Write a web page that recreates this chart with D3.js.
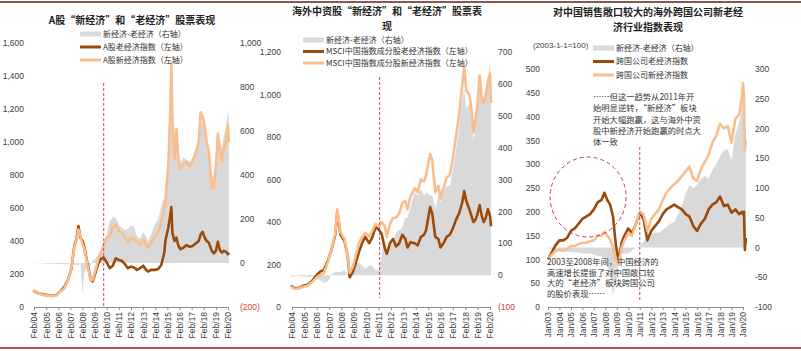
<!DOCTYPE html>
<html>
<head>
<meta charset="utf-8">
<script src="https://cdn.jsdelivr.net/npm/d3@7"></script>
<style>
  body { margin: 0; background: #fff; }
  svg text { font-family: "Liberation Sans", Arial, sans-serif; }
  svg .cjk { font-family: "Noto Sans CJK SC", sans-serif; }
</style>
</head>
<body>
<div id="chart"></div>
<script>
// ---- Panel 1: A-share new vs old economy ----
const p1Dates = ["2004-01","2004-04","2004-08","2004-12","2005-04","2005-08","2005-12","2006-04","2006-08","2006-12",
  "2007-03","2007-06","2007-08","2007-10","2007-12","2008-02","2008-04","2008-07","2008-10","2008-12",
  "2009-03","2009-06","2009-08","2009-11","2010-02","2010-05","2010-08","2010-11","2011-02","2011-05",
  "2011-08","2011-11","2012-02","2012-05","2012-08","2012-11","2013-02","2013-05","2013-07","2013-10",
  "2014-02","2014-05","2014-08","2014-11","2014-12","2015-03","2015-05","2015-06","2015-07","2015-09",
  "2015-11","2016-01","2016-03","2016-06","2016-09","2016-12","2017-03","2017-06","2017-09","2017-11",
  "2018-01","2018-03","2018-05","2018-07","2018-10","2018-12","2019-02","2019-04","2019-06","2019-08",
  "2019-10","2019-12","2020-02","2020-03"];
const p1Old = [100,92,80,75,72,68,72,95,120,170,
  230,370,410,490,420,400,360,260,170,155,
  210,270,290,300,270,235,250,295,285,280,
  260,235,245,240,225,235,250,225,215,225,
  225,230,255,330,400,480,560,606,450,400,
  420,370,350,360,375,365,370,385,400,440,
  455,420,400,390,340,325,340,395,345,330,
  340,335,320,330];
const p1New = [100,94,80,72,70,66,70,92,112,165,
  235,360,400,470,430,380,350,250,160,165,
  225,300,320,380,420,430,480,500,460,450,
  420,390,420,410,395,375,410,380,360,390,
  430,450,520,600,620,860,1200,1480,1150,900,
  1080,880,830,870,880,850,880,930,1000,1180,
  1150,1100,1000,950,720,720,850,1050,960,880,
  960,1000,1100,1000];
const p1Gap = [0,2,0,-3,-2,-3,-3,-4,-6,-5,
  5,-8,-8,-10,5,-140,-40,-20,-10,10,
  20,40,55,80,130,190,210,205,170,160,
  150,155,170,165,120,110,140,120,100,130,
  180,200,260,300,360,420,600,650,580,480,
  560,500,460,480,470,460,480,520,560,650,
  640,620,560,520,390,400,470,580,560,520,
  580,620,695,650];
const p1Ticks = ["Feb/04","Feb/05","Feb/06","Feb/07","Feb/08","Feb/09","Feb/10","Feb/11","Feb/12",
  "Feb/13","Feb/14","Feb/15","Feb/16","Feb/17","Feb/18","Feb/19","Feb/20"];
const p1LeftTicks = [0,200,400,600,800,1000,1200,1400,1600];
const p1RightTicks = [-200,0,200,400,600,800,1000];
const p1Marker = "2009-11";
const p1Title = ["A股“新经济”和“老经济”股票表现"];
const p1Legend = ["新经济-老经济（右轴）","A股老经济指数（左轴）","A股新经济指数（左轴）"];

// ---- Panel 2: offshore Chinese stocks (MSCI China) ----
const p2Dates = ["2004-01","2004-05","2004-09","2005-01","2005-05","2005-09","2006-01","2006-05","2006-09","2007-01",
  "2007-05","2007-08","2007-10","2008-01","2008-05","2008-08","2008-10","2009-01","2009-04","2009-07",
  "2009-10","2010-01","2010-05","2010-08","2010-11","2011-02","2011-05","2011-08","2011-10","2012-01",
  "2012-04","2012-07","2012-10","2013-01","2013-04","2013-06","2013-09","2014-01","2014-04","2014-07",
  "2014-10","2014-12","2015-04","2015-06","2015-09","2015-12","2016-02","2016-05","2016-08","2016-11",
  "2017-02","2017-05","2017-08","2017-11","2018-01","2018-03","2018-06","2018-08","2018-10","2018-12",
  "2019-02","2019-04","2019-06","2019-08","2019-10","2019-12","2020-02","2020-03"];
const p2Old = [100,88,90,100,105,120,145,165,175,220,
  280,340,450,340,310,240,140,165,210,260,
  300,330,300,330,375,365,345,275,250,300,
  320,285,300,340,320,280,305,300,290,330,
  340,360,470,440,330,320,280,300,330,340,
  370,410,440,490,545,500,460,430,400,410,
  440,480,430,400,420,460,430,380];
const p2New = [95,85,88,95,100,115,135,150,160,215,
  285,350,460,350,320,240,160,190,245,300,
  330,350,330,360,390,380,400,380,330,390,
  420,420,440,490,500,460,520,560,540,600,
  590,620,720,690,540,570,510,560,610,620,
  700,800,900,1040,1130,1020,1000,930,820,880,
  960,1090,980,960,1000,1060,1100,960];
const p2Gap = [-5,-3,-2,-5,-5,-5,-10,-15,-25,-20,
  5,10,10,10,15,0,20,25,35,40,
  30,20,30,30,15,15,60,110,85,95,
  100,135,140,150,180,180,215,260,250,270,
  250,260,250,250,210,250,230,260,280,280,
  330,390,460,550,585,520,540,500,420,470,
  520,610,550,560,580,600,670,580];
const p2Ticks = p1Ticks;
const p2LeftTicks = [0,200,400,600,800,1000,1200];
const p2RightTicks = [-100,0,100,200,300,400,500,600,700];
const p2Marker = "2011-03";
const p2Title = ["海外中资股“新经济”和“老经济”股票表","现"];
const p2Legend = ["新经济-老经济（右轴）","MSCI中国指数成分股老经济指数（左轴）","MSCI中国指数成分股新经济指数（左轴）"];

// ---- Panel 3: multinationals with China exposure ----
const p3Dates = ["2003-01","2003-05","2003-09","2004-01","2004-05","2004-09","2005-01","2005-05","2005-09","2006-01",
  "2006-05","2006-09","2007-01","2007-05","2007-09","2007-12","2008-03","2008-06","2008-09","2008-12",
  "2009-03","2009-06","2009-09","2010-01","2010-05","2010-09","2011-01","2011-05","2011-09","2012-01",
  "2012-05","2012-09","2013-01","2013-05","2013-09","2014-01","2014-05","2014-09","2015-01","2015-05",
  "2015-09","2016-01","2016-05","2016-09","2017-01","2017-05","2017-09","2018-01","2018-05","2018-09",
  "2019-01","2019-05","2019-09","2019-12","2020-01","2020-02","2020-03","2020-04"];
const p3Old = [100,115,130,140,140,145,160,165,175,185,
  190,195,205,220,225,240,225,215,190,130,
  95,135,150,165,155,175,198,185,140,160,
  170,180,195,205,210,215,210,205,195,190,
  170,160,175,185,205,215,220,232,212,215,
  198,205,195,200,195,200,120,145];
const p3New = [100,110,118,120,118,122,128,128,132,135,
  135,138,140,150,150,158,150,142,125,100,
  88,125,140,155,150,175,200,195,160,185,
  195,205,225,240,250,258,265,275,285,295,
  270,265,290,305,320,345,360,385,375,380,
  345,395,405,440,470,440,330,350];
const p3Gap = [0,-3,-5,-6,-6,-7,-8,-8,-9,-10,
  -10,-10,-12,-14,-15,-20,-30,-45,-80,-60,
  -10,-10,-10,-10,-5,0,2,10,20,25,
  25,25,30,35,40,43,55,70,90,105,
  100,105,115,120,115,130,140,153,163,165,
  147,190,210,240,275,240,210,205];
const p3Ticks = ["Jan/03","Jan/04","Jan/05","Jan/06","Jan/07","Jan/08","Jan/09","Jan/10","Jan/11","Jan/12",
  "Jan/13","Jan/14","Jan/15","Jan/16","Jan/17","Jan/18","Jan/19","Jan/20"];
const p3LeftTicks = [0,50,100,150,200,250,300,350,400,450,500];
const p3RightTicks = [-100,-50,0,50,100,150,200,250,300];
const p3Marker = "2011-01";
const p3Ellipse = { date: "2006-07", value: 231 };
const p3Title = ["对中国销售敞口较大的海外跨国公司新老经","济行业指数表现"];
const p3Legend = ["新经济-老经济（右轴）","跨国公司老经济指数","跨国公司新经济指数"];
const p3NoteTop = ["……但这一趋势从2011年开","始明显逆转，“新经济”板块","开始大幅跑赢，这与海外中资","股中新经济开始跑赢的时点大","体一致"];
const p3NoteBottom = ["2003至2008年间，中国经济的","高速增长提振了对中国敞口较","大的“老经济”板块跨国公司","的股价表现……"];

// Colours
const colorOld = "#9a4a0b";
const colorNew = "#f9be8e";
const colorGap = "#d9d9d9";
const colorMarker = "#c0504d";
const colorText = "#404040";

const parseMonth = d3.timeParse("%Y-%m");
const parseTick = d3.timeParse("%b/%y");

const svg = d3.select("#chart")
    .append("svg")
    .attr("width", 801)
    .attr("height", 351);

svg.append("rect").attr("width", 801).attr("height", 351).attr("fill", "#fff");

// frame lines top and bottom
svg.append("line").attr("x1", 0).attr("x2", 801).attr("y1", 2).attr("y2", 2)
    .attr("stroke", "#5a2418").attr("stroke-width", 1.5);
svg.append("line").attr("x1", 0).attr("x2", 801).attr("y1", 348).attr("y2", 348)
    .attr("stroke", "#a3181d").attr("stroke-width", 1.5);

function drawPanel(p) {
    const g = svg.append("g");

    const x = d3.scaleTime()
        .domain([parseTick(p.ticks[0]), parseTick(p.ticks[p.ticks.length - 1])])
        .range([p.x0, p.x1]);
    const yL = d3.scaleLinear().domain(p.leftDomain).range([p.yBottom, p.yTop]);
    const yR = d3.scaleLinear().domain(p.rightDomain).range([p.yBottom, p.yTop]);

    const rows = p.dates.map((d, i) => ({
        date: parseMonth(d), old: p.old[i], neu: p.neu[i], gap: p.gap[i]
    }));

    // gap area on the right axis
    g.append("path")
        .datum(rows)
        .attr("fill", colorGap)
        .attr("d", d3.area()
            .x(d => x(d.date))
            .y0(yR(0))
            .y1(d => yR(d.gap)));

    // old economy then new economy lines (left axis)
    g.append("path")
        .datum(rows)
        .attr("fill", "none")
        .attr("stroke", colorOld)
        .attr("stroke-width", 2.6)
        .attr("stroke-linejoin", "round")
        .attr("d", d3.line().x(d => x(d.date)).y(d => yL(d.old)));

    g.append("path")
        .datum(rows)
        .attr("fill", "none")
        .attr("stroke", colorNew)
        .attr("stroke-width", 2.6)
        .attr("stroke-linejoin", "round")
        .attr("d", d3.line().x(d => x(d.date)).y(d => yL(d.neu)));

    // dashed marker line
    g.append("line")
        .attr("x1", x(parseMonth(p.marker))).attr("x2", x(parseMonth(p.marker)))
        .attr("y1", p.markerTop).attr("y2", p.markerBottom)
        .attr("stroke", colorMarker)
        .attr("stroke-width", 1)
        .attr("stroke-dasharray", "3,2");

    // bottom axis with rotated labels
    const xAxis = g.append("g")
        .attr("transform", `translate(0,${p.yBottom})`)
        .call(d3.axisBottom(x)
            .tickValues(p.ticks.map(t => parseTick(t)))
            .tickFormat((d, i) => p.ticks[i])
            .tickSize(3)
            .tickSizeOuter(0));
    xAxis.select(".domain").attr("stroke", "#8c8c8c");
    xAxis.selectAll(".tick line").attr("stroke", "#8c8c8c");
    xAxis.selectAll("text")
        .attr("transform", "rotate(-90)")
        .attr("x", -5)
        .attr("y", 0)
        .attr("dy", "0.35em")
        .style("text-anchor", "end")
        .attr("fill", colorText)
        .attr("font-size", 8.5);

    // left axis labels
    const leftAxis = g.append("g")
        .attr("transform", `translate(${p.leftLabelX},0)`)
        .call(d3.axisLeft(yL).tickValues(p.leftTicks).tickSize(0).tickPadding(0)
            .tickFormat(d3.format(",")));
    leftAxis.select(".domain").remove();
    leftAxis.selectAll("text").attr("fill", colorText).attr("font-size", 8.5);

    // right axis labels, negatives in red brackets
    const rightAxis = g.append("g")
        .attr("transform", `translate(${p.rightLabelX},0)`)
        .call(d3.axisRight(yR).tickValues(p.rightTicks).tickSize(0).tickPadding(0)
            .tickFormat(p.rightFormat));
    rightAxis.select(".domain").remove();
    rightAxis.selectAll("text")
        .attr("font-size", 8.5)
        .attr("fill", d => (d < 0 && p.redNegatives) ? "#d0383a" : colorText);

    // title, wrapped lines
    g.selectAll(".title")
        .data(p.title)
        .enter().append("text")
        .attr("class", "cjk")
        .attr("x", p.titleX)
        .attr("y", (d, i) => p.titleY + i * 14.5)
        .attr("text-anchor", "middle")
        .attr("font-size", 10)
        .attr("font-weight", "bold")
        .attr("fill", "#222")
        .text(d => d);

    // legend
    const legendStyle = [
        { color: colorGap, width: 5 },
        { color: colorOld, width: 3 },
        { color: colorNew, width: 3 }
    ];
    const lg = g.selectAll(".legend")
        .data(p.legend)
        .enter().append("g")
        .attr("transform", (d, i) => `translate(${p.legendX},${p.legendY + i * p.legendStep})`);
    lg.append("line")
        .attr("x1", 0).attr("x2", 21)
        .attr("stroke", (d, i) => legendStyle[i].color)
        .attr("stroke-width", (d, i) => legendStyle[i].width);
    lg.append("text")
        .attr("class", "cjk")
        .attr("x", 23)
        .attr("dy", "0.35em")
        .attr("font-size", 8)
        .attr("fill", "#333")
        .text(d => d);

    return { g, x, yL, yR };
}

const panel1 = drawPanel({
    dates: p1Dates, old: p1Old, neu: p1New, gap: p1Gap, ticks: p1Ticks,
    leftTicks: p1LeftTicks, rightTicks: p1RightTicks, marker: p1Marker,
    title: p1Title, legend: p1Legend,
    x0: 34, x1: 228, yTop: 43, yBottom: 307,
    leftDomain: [0, 1600], rightDomain: [-200, 1000],
    leftLabelX: 24, rightLabelX: 240,
    rightFormat: d => d < 0 ? `(${-d})` : d3.format(",")(d), redNegatives: true,
    markerTop: 83, markerBottom: 307,
    titleX: 132, titleY: 24,
    legendX: 80, legendY: 34, legendStep: 13
});

const panel2 = drawPanel({
    dates: p2Dates, old: p2Old, neu: p2New, gap: p2Gap, ticks: p2Ticks,
    leftTicks: p2LeftTicks, rightTicks: p2RightTicks, marker: p2Marker,
    title: p2Title, legend: p2Legend,
    x0: 292, x1: 490, yTop: 52, yBottom: 307,
    leftDomain: [0, 1200], rightDomain: [-100, 700],
    leftLabelX: 281, rightLabelX: 498,
    rightFormat: d => d < 0 ? `(${-d}` : d3.format(",")(d), redNegatives: true,
    markerTop: 77, markerBottom: 298,
    titleX: 387, titleY: 15,
    legendX: 303, legendY: 40, legendStep: 11.5
});

const panel3 = drawPanel({
    dates: p3Dates, old: p3Old, neu: p3New, gap: p3Gap, ticks: p3Ticks,
    leftTicks: p3LeftTicks, rightTicks: p3RightTicks, marker: p3Marker,
    title: p3Title, legend: p3Legend,
    x0: 548, x1: 743, yTop: 69, yBottom: 307,
    leftDomain: [0, 500], rightDomain: [-100, 300],
    leftLabelX: 540, rightLabelX: 755,
    rightFormat: d => String(d), redNegatives: false,
    markerTop: 147, markerBottom: 302,
    titleX: 648, titleY: 16,
    legendX: 593, legendY: 48, legendStep: 13.5
});

// base note for panel 3 axis
panel3.g.append("text")
    .attr("x", 533)
    .attr("y", 48)
    .attr("font-size", 8)
    .attr("fill", colorText)
    .text("(2003-1-1=100)");

// dashed ellipse round the 2003-2008 run-up
panel3.g.append("ellipse")
    .attr("cx", panel3.x(parseMonth(p3Ellipse.date)))
    .attr("cy", panel3.yL(p3Ellipse.value))
    .attr("rx", 38)
    .attr("ry", 40)
    .attr("fill", "none")
    .attr("stroke", "#c8385a")
    .attr("stroke-width", 1)
    .attr("stroke-dasharray", "4,3");

// annotations
panel3.g.selectAll(".note-top")
    .data(p3NoteTop)
    .enter().append("text")
    .attr("class", "cjk")
    .attr("x", 593)
    .attr("y", (d, i) => 100 + i * 11.3)
    .attr("font-size", 8.3)
    .attr("fill", "#333")
    .text(d => d);

panel3.g.selectAll(".note-bottom")
    .data(p3NoteBottom)
    .enter().append("text")
    .attr("class", "cjk")
    .attr("x", 547)
    .attr("y", (d, i) => 265 + i * 10.7)
    .attr("font-size", 8.3)
    .attr("fill", "#333")
    .text(d => d);
</script>
</body>
</html>
